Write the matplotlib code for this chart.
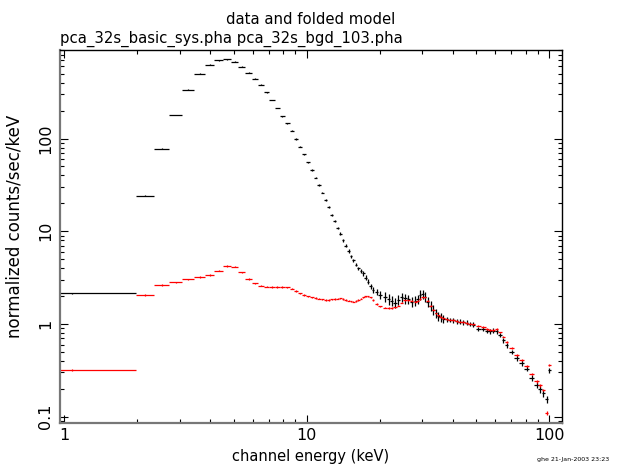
import numpy as np
import matplotlib
matplotlib.use("Agg")
import matplotlib.pyplot as plt
from matplotlib.ticker import LogLocator, NullFormatter, FixedLocator, FixedFormatter

# channel energies (keV), bin half widths
energy = [1.08, 2.165, 2.53, 2.895, 3.26, 3.625, 3.99, 4.35,
          4.71, 5.05, 5.41, 5.78, 6.13, 6.49, 6.85, 7.20, 7.58, 7.95, 8.33, 8.69, 9.05, 9.40,
          9.79, 10.17, 10.54, 10.90, 11.26, 11.62, 11.98, 12.35, 12.71, 13.07, 13.43, 13.79,
          14.15, 14.52, 14.90, 15.26, 15.62, 15.98, 16.36, 16.76, 17.15, 17.54, 17.94, 18.38,
          18.84, 19.44, 20.10,
          21.08, 21.78, 22.48, 23.18, 23.90, 24.70, 25.48, 26.29, 27.15, 28.02, 28.70, 29.38,
          30.15, 30.81, 31.61, 32.52, 33.34, 34.20, 34.96, 35.76, 36.65,
          37.85, 39.06, 40.31, 41.63, 42.95, 44.32, 45.77, 47.23, 48.73, 51.1, 53.6, 55.4,
          57.1, 58.9, 60.85, 62.8, 64.8, 66.9, 70.2, 73.6, 77.2, 80.9, 84.9, 89.0, 91.8,
          94.7, 97.8, 100.3]

e_half = [0.90, 0.185, 0.18, 0.185, 0.18, 0.185, 0.18, 0.18,
          0.18, 0.18, 0.18, 0.18, 0.18, 0.18, 0.18, 0.18, 0.18, 0.18, 0.18, 0.18, 0.18, 0.18,
          0.19, 0.19, 0.19, 0.19, 0.19, 0.19, 0.19, 0.19, 0.19, 0.19, 0.19, 0.19,
          0.19, 0.19, 0.19, 0.19, 0.19, 0.19, 0.19, 0.20, 0.20, 0.20, 0.20, 0.20,
          0.22, 0.30, 0.33,
          0.35, 0.35, 0.35, 0.35, 0.37, 0.40, 0.40, 0.40, 0.40, 0.40, 0.35, 0.35,
          0.38, 0.38, 0.40, 0.42, 0.42, 0.42, 0.42, 0.45, 0.45,
          0.60, 0.62, 0.64, 0.66, 0.68, 0.70, 0.72, 0.74, 0.76, 1.2, 1.2, 0.9,
          0.9, 0.9, 1.0, 1.0, 1.0, 1.1, 1.6, 1.7, 1.8, 1.9, 2.0, 2.0, 1.4,
          1.5, 1.5, 1.3]

# source spectrum (pca_32s_basic_sys.pha)
src_rate = [2.14, 24.2, 77.8, 180, 337, 502, 627, 700,
            717, 676, 597, 514, 443, 381, 316, 261, 214, 175, 146, 122, 99, 82,
            67.8, 55.5, 45.8, 37.9, 31.6, 26.1, 21.9, 18.3, 15.1, 12.8, 10.9, 9.42,
            8.0, 7.0, 6.13, 5.39, 4.84, 4.38, 3.97, 3.75, 3.51, 3.17, 2.86, 2.57,
            2.33, 2.23, 2.06,
            1.97, 1.85, 1.78, 1.70, 1.82, 1.94, 1.89, 1.85, 1.74, 1.78, 1.85, 2.06,
            2.09, 1.97, 1.74, 1.56, 1.42, 1.30, 1.22, 1.18, 1.14,
            1.12, 1.10, 1.09, 1.07, 1.06, 1.04, 1.03, 1.00, 0.98, 0.88, 0.88, 0.84,
            0.83, 0.85, 0.83, 0.76, 0.67, 0.59, 0.50, 0.43, 0.38, 0.33, 0.26, 0.22, 0.198,
            0.179, 0.154, 0.319]

src_err = [0.03, 0.3, 0.8, 1.5, 2.5, 3.5, 4.5, 5,
           5, 5, 4.5, 4, 3.5, 3, 2.8, 2.5, 2.2, 2.0, 1.8, 1.6, 1.4, 1.2,
           1.0, 0.9, 0.8, 0.7, 0.6, 0.5, 0.45, 0.4, 0.35, 0.32, 0.3, 0.28,
           0.26, 0.25, 0.24, 0.22, 0.21, 0.2, 0.19, 0.18, 0.18, 0.17, 0.17, 0.16,
           0.16, 0.17, 0.18,
           0.24, 0.23, 0.22, 0.21, 0.22, 0.23, 0.23, 0.22, 0.21, 0.21, 0.22, 0.25,
           0.25, 0.24, 0.21, 0.19, 0.17, 0.15, 0.14, 0.13, 0.12,
           0.06, 0.06, 0.06, 0.06, 0.06, 0.06, 0.06, 0.06, 0.06, 0.05, 0.05, 0.05,
           0.05, 0.05, 0.05, 0.045, 0.04, 0.035, 0.03, 0.028, 0.025, 0.022, 0.02, 0.018, 0.016,
           0.015, 0.014, 0.02]

# background spectrum (pca_32s_bgd_103.pha)
bkg_rate = [0.319, 2.05, 2.63, 2.82, 3.03, 3.21, 3.38, 3.76,
            4.22, 4.15, 3.61, 3.06, 2.75, 2.59, 2.53, 2.51, 2.51, 2.51, 2.49, 2.40, 2.27, 2.14,
            2.05, 1.99, 1.94, 1.91, 1.87, 1.85, 1.82, 1.81, 1.84, 1.86, 1.88, 1.89,
            1.86, 1.81, 1.78, 1.76, 1.74, 1.77, 1.81, 1.88, 1.93, 1.98, 1.99, 1.93,
            1.81, 1.64, 1.55,
            1.50, 1.49, 1.49, 1.51, 1.58, 1.70, 1.81, 1.80, 1.78, 1.74, 1.79, 1.86,
            1.93, 1.95, 1.79, 1.58, 1.42, 1.30, 1.24, 1.19, 1.15,
            1.12, 1.11, 1.10, 1.08, 1.06, 1.05, 1.03, 1.01, 0.99, 0.96, 0.92, 0.88,
            0.87, 0.87, 0.88, 0.81, 0.73, 0.64, 0.55, 0.46, 0.41, 0.35, 0.29, 0.24, 0.217,
            0.194, 0.109, 0.361]

bkg_err = [0.005, 0.03, 0.04, 0.04, 0.05, 0.05, 0.05, 0.05,
           0.06, 0.06, 0.05, 0.05, 0.04, 0.04, 0.04, 0.04, 0.04, 0.04, 0.04, 0.04, 0.035, 0.035,
           0.03, 0.03, 0.03, 0.03, 0.03, 0.03, 0.03, 0.03, 0.03, 0.03, 0.03, 0.03,
           0.03, 0.03, 0.03, 0.03, 0.03, 0.03, 0.03, 0.03, 0.03, 0.03, 0.03, 0.03,
           0.03, 0.025, 0.025,
           0.025, 0.025, 0.025, 0.025, 0.025, 0.025, 0.025, 0.025, 0.025, 0.025, 0.025, 0.025,
           0.025, 0.025, 0.025, 0.025, 0.02, 0.02, 0.02, 0.02, 0.02,
           0.02, 0.02, 0.02, 0.02, 0.02, 0.02, 0.02, 0.02, 0.02, 0.02, 0.02, 0.02,
           0.02, 0.02, 0.02, 0.015, 0.015, 0.015, 0.012, 0.012, 0.01, 0.01, 0.008, 0.008, 0.007,
           0.006, 0.005, 0.01]

fig = plt.figure(figsize=(6.22, 4.65), dpi=100)
ax = fig.add_axes([0.0965, 0.091, 0.8063, 0.8015])

ax.errorbar(energy, src_rate, xerr=e_half, yerr=src_err, fmt='none',
            ecolor='black', elinewidth=0.9, capsize=0)
ax.errorbar(energy, bkg_rate, xerr=e_half, yerr=bkg_err, fmt='none',
            ecolor='#ff0000', elinewidth=0.9, capsize=0)

ax.set_xscale('log')
ax.set_yscale('log')
ax.set_xlim(0.963, 112.6)
ax.set_ylim(0.0861, 903)

ax.xaxis.set_major_locator(FixedLocator([1, 10, 100]))
ax.xaxis.set_major_formatter(FixedFormatter(['1', '10', '100']))
ax.xaxis.set_minor_locator(LogLocator(base=10, subs=np.arange(2, 10)))
ax.xaxis.set_minor_formatter(NullFormatter())
ax.yaxis.set_major_locator(FixedLocator([0.1, 1, 10, 100]))
ax.yaxis.set_major_formatter(FixedFormatter(['0.1', '1', '10', '100']))
ax.yaxis.set_minor_locator(LogLocator(base=10, subs=np.arange(2, 10)))
ax.yaxis.set_minor_formatter(NullFormatter())

ax.tick_params(which='both', direction='in', top=True, right=True, width=0.8)
ax.tick_params(which='major', length=6)
ax.tick_params(which='minor', length=3)
ax.tick_params(axis='x', labelsize=11.5, pad=4)
ax.tick_params(axis='y', labelsize=11.5, pad=5)
for lab in ax.get_yticklabels():
    lab.set_rotation(90)
    lab.set_va('center')

for s in ['left', 'bottom']:
    ax.spines[s].set_color('#777777')
    ax.spines[s].set_linewidth(1.6)
for s in ['top', 'right']:
    ax.spines[s].set_linewidth(1.0)

ax.set_xlabel('channel energy (keV)', fontsize=10.5, labelpad=4)
ax.set_ylabel('normalized counts/sec/keV', fontsize=12)
ax.yaxis.set_label_coords(-0.072, 0.528)

fig.text(0.4997, 0.958, 'data and folded model', ha='center', va='center', fontsize=10.7)
fig.text(0.0965, 0.916, 'pca_32s_basic_sys.pha pca_32s_bgd_103.pha', ha='left', va='center', fontsize=10.7)
fig.text(0.863, 0.006, 'ghe 21-Jan-2003 23:23', ha='left', va='bottom', fontsize=4.5)

fig.savefig('out.png', dpi=100)
